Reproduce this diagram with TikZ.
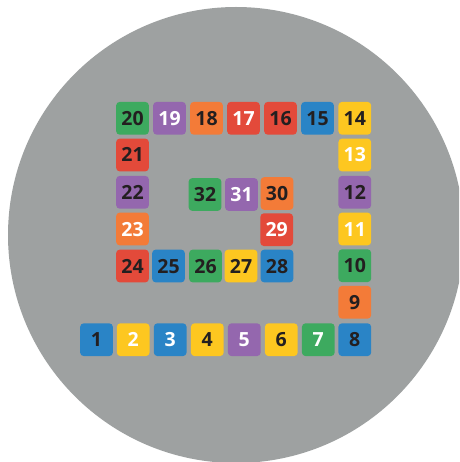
\documentclass[tikz,border=0pt]{standalone}
\usepackage{fontspec}
\setmainfont{Open Sans}
\definecolor{bggray}{RGB}{158,161,161}
\definecolor{cgreen}{RGB}{61,170,95}
\definecolor{cpurple}{RGB}{148,103,174}
\definecolor{corange}{RGB}{243,123,56}
\definecolor{cred}{RGB}{227,74,58}
\definecolor{cblue}{RGB}{42,132,198}
\definecolor{cyellow}{RGB}{253,199,32}
\definecolor{cdark}{RGB}{35,31,32}
\begin{document}
\begin{tikzpicture}[x=1pt,y=-1pt,
  tile/.style={rounded corners=3.5pt, minimum size=32.7pt, inner sep=0pt,
    font=\fontsize{19.5}{20}\selectfont\bfseries, text height=14pt, text depth=0pt}]
\useasboundingbox (0,0) rectangle (459,462);
\fill[white] (0,0) rectangle (459,462);
\begin{scope}
\clip (0,0) rectangle (459,462);
\fill[bggray] (236,235) circle (228pt);
\end{scope}
\foreach \n/\x/\y/\c/\t in {
  1/96.5/339.7/cblue/cdark, 2/133.2/339.7/cyellow/white, 3/170.2/339.7/cblue/white,
  4/207.3/339.7/cyellow/cdark, 5/244.3/339.7/cpurple/white, 6/281.3/339.7/cyellow/cdark,
  7/318.3/339.7/cgreen/white, 8/354.8/339.7/cblue/cdark,
  9/354.8/302.3/corange/cdark, 10/354.8/265.7/cgreen/cdark, 11/354.8/229/cyellow/white,
  12/354.8/192.3/cpurple/cdark, 13/354.8/155/cyellow/white, 14/354.8/118.3/cyellow/cdark,
  15/317.5/118.3/cblue/cdark, 16/280.5/118.3/cred/cdark, 17/243.5/118.3/cred/white,
  18/206.5/118.3/corange/cdark, 19/169.5/118.3/cpurple/white, 20/132.5/118.3/cgreen/cdark,
  21/132.5/155/cred/cdark, 22/132.5/192.3/cpurple/cdark, 23/132.5/229/corange/white,
  24/132.5/266/cred/cdark, 25/168.5/266/cblue/cdark, 26/205.5/266/cgreen/cdark,
  27/241/266/cyellow/cdark, 28/277/266/cblue/cdark, 29/276.7/229.7/cred/white,
  30/277/193.5/corange/cdark, 31/241.5/194.5/cpurple/white, 32/205/194.5/cgreen/cdark}
  \node[tile, fill=\c, text=\t] (t\n) at (\x,\y) {\n};
\end{tikzpicture}
\end{document}
